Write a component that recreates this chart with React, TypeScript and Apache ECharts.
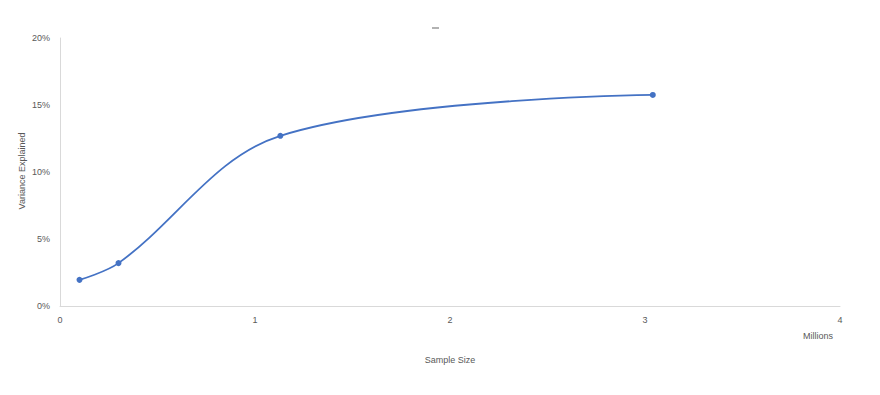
import React, { useEffect, useRef } from "react";
import * as echarts from "echarts";

const sampleSizeMillions = [0.1, 0.3, 1.13, 3.04];
const varianceExplained = [0.0195, 0.032, 0.127, 0.1575];
const xTicks = [0, 1, 2, 3, 4];
const yTicks = [0, 0.05, 0.1, 0.15, 0.2];

const FONT = "'Liberation Sans', 'Open Sans', sans-serif";
const GRAY = "#595959";

export default function App() {
  const ref = useRef<HTMLDivElement>(null);
  useEffect(() => {
    if (!ref.current) return;
    const chart = echarts.init(ref.current, undefined, { renderer: "svg" });
    chart.setOption({
      animation: false,
      backgroundColor: "#ffffff",
      grid: { left: 60, right: 40, top: 38, bottom: 89, containLabel: false },
      xAxis: {
        type: "value",
        min: xTicks[0],
        max: xTicks[xTicks.length - 1],
        interval: 1,
        name: "Sample Size",
        nameLocation: "middle",
        nameGap: 49,
        nameTextStyle: { color: GRAY, fontSize: 9, fontFamily: FONT },
        axisLine: { show: true, lineStyle: { color: "#d9d9d9", width: 1 } },
        axisTick: { show: false },
        splitLine: { show: false },
        axisLabel: { color: GRAY, fontSize: 9, fontFamily: FONT, margin: 9 },
      },
      yAxis: {
        type: "value",
        min: yTicks[0],
        max: yTicks[yTicks.length - 1],
        interval: 0.05,
        axisLine: { show: true, lineStyle: { color: "#d9d9d9", width: 1 } },
        axisTick: { show: false },
        splitLine: { show: false },
        axisLabel: {
          color: GRAY,
          fontSize: 9,
          fontFamily: FONT,
          margin: 10,
          formatter: (v: number) => Math.round(v * 100) + "%",
        },
      },
      graphic: [
        {
          type: "text",
          x: 22,
          y: 171,
          rotation: Math.PI / 2,
          style: {
            text: "Variance Explained",
            fill: GRAY,
            fontSize: 9,
            fontFamily: FONT,
            align: "center",
            verticalAlign: "middle",
          },
        },
        {
          type: "text",
          left: 803,
          top: 331,
          style: { text: "Millions", fill: GRAY, fontSize: 9, fontFamily: FONT },
        },
        {
          type: "line",
          shape: { x1: 432, y1: 28, x2: 439, y2: 28 },
          style: { stroke: "#7f7f7f", lineWidth: 1.2 },
        },
      ],
      series: [
        {
          type: "line",
          data: sampleSizeMillions.map((x, i) => [x, varianceExplained[i]]),
          smooth: 0.35,
          symbol: "circle",
          symbolSize: 6,
          lineStyle: { color: "#4472C4", width: 1.8 },
          itemStyle: { color: "#4472C4" },
        },
      ],
    });
    return () => chart.dispose();
  }, []);
  return <div ref={ref} style={{ width: 880, height: 395, margin: -8 }} />;
}
